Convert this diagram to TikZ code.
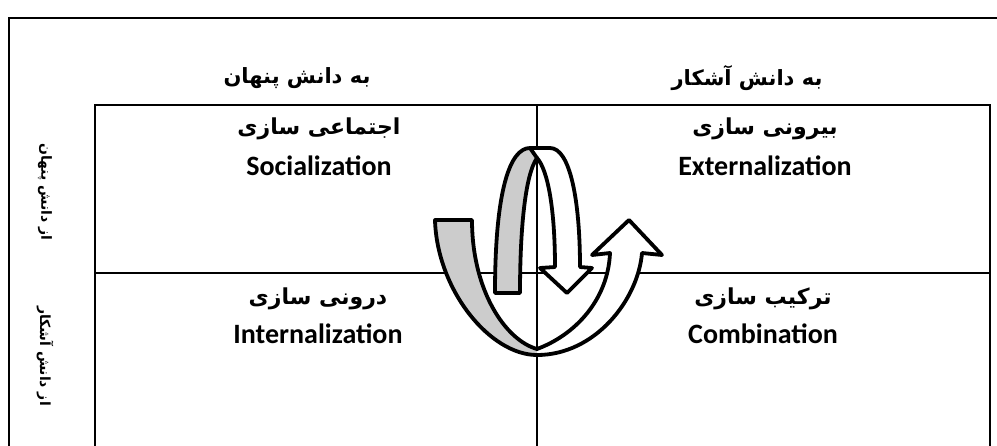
\documentclass[tikz,border=0pt]{standalone}
\usepackage{fontspec}
\usepackage{xcolor}
\usetikzlibrary{positioning}
\TeXXeTstate=1
\setmainfont{Carlito}
\newfontfamily\farsi[Script=Arabic, BoldFont={DejaVu Sans Bold}]{DejaVu Sans}
\definecolor{ribbongray}{RGB}{204,204,204}

\begin{document}
\begin{tikzpicture}[x=1pt, y=-1pt,
  every node/.style={inner sep=0pt},
  grid/.style={line width=2pt, black},
  head/.style={font=\farsi\bfseries\fontsize{21}{24}\selectfont},
  side/.style={font=\farsi\bfseries\fontsize{14}{17}\selectfont, rotate=-90},
  cellfa/.style={font=\farsi\bfseries\fontsize{22}{26}\selectfont},
  cellen/.style={font=\bfseries\fontsize{28}{32}\selectfont},
  ribbon/.style={line width=3.8pt, line join=round, draw=black}]
\useasboundingbox (0,0) rectangle (997,445);

% outer frame
\draw[grid] (9,446) -- (9,18) -- (998,18);

% table
\draw[grid] (95,446) -- (95,105) -- (990,105) -- (990,446);
\draw[grid] (537,105) -- (537,446);
\draw[grid] (95,273) -- (990,273);

% column heads
\node[head] (tohidden) at (297,78) {\beginR به دانش پنهان\endR};
\node[head] (toexplicit) at (747,78) {\beginR به دانش آشکار\endR};

% row heads
\node[side] (fromhidden) at (45,192) {\beginR از دانش پنهان\endR};
\node[side] (fromexplicit) at (45,356) {\beginR از دانش آشکار\endR};

% cells
\node[cellfa] (socfa) at (319,129) {\beginR اجتماعی سازی\endR};
\node[cellen] (socen) at (319,166) {Socialization};
\node[cellfa] (extfa) at (765,129) {\beginR بیرونی سازی\endR};
\node[cellen] (exten) at (765,166) {Externalization};
\node[cellfa] (intfa) at (318,299) {\beginR درونی سازی\endR};
\node[cellen] (inten) at (318,334) {Internalization};
\node[cellfa] (comfa) at (763,299) {\beginR ترکیب سازی\endR};
\node[cellen] (comen) at (763,334) {Combination};

% U-shaped ribbon with upward head
\fill[white] (435,220) -- (472,220) .. controls (472,290) and (505,340) .. (537,349)
  .. controls (575,335) and (608,300) .. (610,253) -- (592,255) -- (629,220)
  -- (662,255) -- (642,253) .. controls (638,300) and (595,355) .. (537,355)
  .. controls (490,355) and (437,290) .. (435,220) -- cycle;
\fill[ribbongray] (435,220) -- (472,220) .. controls (472,290) and (505,340) .. (537,349)
  -- (537,355) .. controls (490,355) and (437,290) .. (435,220) -- cycle;
\draw[ribbon] (435,220) -- (472,220) .. controls (472,290) and (505,340) .. (537,349)
  .. controls (575,335) and (608,300) .. (610,253) -- (592,255) -- (629,220)
  -- (662,255) -- (642,253) .. controls (638,300) and (595,355) .. (537,355)
  .. controls (490,355) and (437,290) .. (435,220) -- cycle;

% arch ribbon with downward head
\fill[white] (495,293) .. controls (495,190) and (510,148) .. (530,148) -- (550,148)
  .. controls (570,148) and (580,200) .. (580,267) -- (592,268) -- (567,293)
  -- (540,268) -- (555,267) .. controls (555,210) and (548,170) .. (537,158)
  .. controls (525,175) and (520,230) .. (520,293) -- cycle;
\fill[ribbongray] (495,293) .. controls (495,190) and (510,148) .. (530,148)
  -- (537,158) .. controls (525,175) and (520,230) .. (520,293) -- cycle;
\draw[ribbon] (495,293) .. controls (495,190) and (510,148) .. (530,148) -- (550,148)
  .. controls (570,148) and (580,200) .. (580,267) -- (592,268) -- (567,293)
  -- (540,268) -- (555,267) .. controls (555,210) and (548,170) .. (537,158)
  .. controls (525,175) and (520,230) .. (520,293) -- cycle;
\draw[ribbon] (530,148) -- (537,158);
\end{tikzpicture}
\end{document}
